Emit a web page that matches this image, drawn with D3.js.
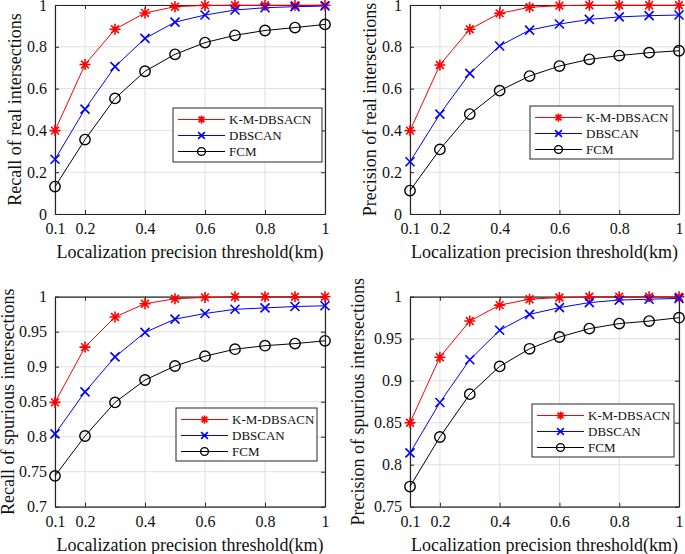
<!DOCTYPE html>
<html><head><meta charset="utf-8">
<script src="https://cdn.jsdelivr.net/npm/d3@7"></script>
<style>body{margin:0;background:#fff}svg{display:block}</style>
</head><body>
<script>
const thresholds = [0.1,0.2,0.3,0.4,0.5,0.6,0.7,0.8,0.9,1.0];
const xTicks = [0.1,0.2,0.4,0.6,0.8,1];
const seriesNames = ["K-M-DBSACN","DBSCAN","FCM"];

const recallReal_KM   = [0.399,0.715,0.884,0.962,0.992,0.998,0.999,0.999,0.999,0.999];
const recallReal_DB   = [0.262,0.502,0.705,0.840,0.918,0.952,0.976,0.987,0.992,0.995];
const recallReal_FCM  = [0.131,0.356,0.553,0.683,0.764,0.820,0.855,0.878,0.892,0.907];

const precReal_KM     = [0.399,0.713,0.884,0.960,0.989,0.997,0.999,0.999,0.999,0.999];
const precReal_DB     = [0.250,0.478,0.673,0.804,0.880,0.909,0.931,0.943,0.949,0.952];
const precReal_FCM    = [0.112,0.309,0.478,0.590,0.660,0.708,0.740,0.758,0.772,0.781];

const recallSpur_KM   = [0.849,0.928,0.971,0.990,0.997,0.999,1.000,1.000,1.000,1.000];
const recallSpur_DB   = [0.804,0.864,0.914,0.949,0.968,0.976,0.982,0.984,0.986,0.987];
const recallSpur_FCM  = [0.744,0.801,0.849,0.881,0.901,0.915,0.925,0.930,0.933,0.937];

const precSpur_KM     = [0.850,0.928,0.971,0.990,0.997,0.999,1.000,1.000,1.000,1.000];
const precSpur_DB     = [0.814,0.874,0.925,0.960,0.979,0.987,0.993,0.996,0.997,0.998];
const precSpur_FCM    = [0.774,0.833,0.884,0.917,0.938,0.952,0.962,0.968,0.971,0.975];

const yTicksReal = [0,0.2,0.4,0.6,0.8,1];
const yTicksRecallSpur = [0.7,0.75,0.8,0.85,0.9,0.95,1];
const yTicksPrecSpur = [0.75,0.8,0.85,0.9,0.95,1];

const xLabel = "Localization precision threshold(km)";

const panels = [
  {yLabel:"Recall of real intersections", series:[recallReal_KM,recallReal_DB,recallReal_FCM], yDomain:[0,1], yTicks:yTicksReal,
   box:{l:55,r:325,t:5,b:214}, ylx:15, leg:{x:173,y:108,w:149,h:54}},
  {yLabel:"Precision of real intersections", series:[precReal_KM,precReal_DB,precReal_FCM], yDomain:[0,1], yTicks:yTicksReal,
   box:{l:410,r:679,t:5,b:214}, ylx:370, leg:{x:530,y:106,w:143,h:53}},
  {yLabel:"Recall of spurious intersections", series:[recallSpur_KM,recallSpur_DB,recallSpur_FCM], yDomain:[0.7,1], yTicks:yTicksRecallSpur,
   box:{l:55,r:325,t:296.7,b:506.7}, ylx:8, leg:{x:176,y:408,w:141,h:53}},
  {yLabel:"Precision of spurious intersections", series:[precSpur_KM,precSpur_DB,precSpur_FCM], yDomain:[0.75,1], yTicks:yTicksPrecSpur,
   box:{l:410,r:679,t:296.7,b:506.7}, ylx:358, leg:{x:532,y:404,w:142,h:53}}
];

const colors = ["#ff0000","#0000ff","#000000"];
const font = "Liberation Serif, Times New Roman, serif";

const svg = d3.select("body").append("svg").attr("width",685).attr("height",554)
  .attr("font-family",font);

function marker(g, type, x, y, color, s){
  if(type===0){
    const r=5.5*s, d=r*0.707;
    g.append("path").attr("d",`M${x-r},${y}L${x+r},${y}M${x},${y-r}L${x},${y+r}M${x-d},${y-d}L${x+d},${y+d}M${x-d},${y+d}L${x+d},${y-d}`)
      .attr("stroke",color).attr("stroke-width",1.6).attr("fill","none");
  } else if(type===1){
    const r=4.5*s;
    g.append("path").attr("d",`M${x-r},${y-r}L${x+r},${y+r}M${x-r},${y+r}L${x+r},${y-r}`)
      .attr("stroke",color).attr("stroke-width",1.6).attr("fill","none");
  } else {
    g.append("circle").attr("cx",x).attr("cy",y).attr("r",5.2*s)
      .attr("stroke",color).attr("stroke-width",1.4).attr("fill","none");
  }
}

panels.forEach(p=>{
  const B=p.box;
  const x=d3.scaleLinear().domain([0.1,1]).range([B.l,B.r]);
  const y=d3.scaleLinear().domain(p.yDomain).range([B.b,B.t]);
  const g=svg.append("g");
  g.selectAll(".gx").data(xTicks).enter().append("line")
    .attr("x1",d=>x(d)).attr("x2",d=>x(d)).attr("y1",B.t).attr("y2",B.b)
    .attr("stroke","#e0e0e0").attr("stroke-width",1);
  g.selectAll(".gy").data(p.yTicks).enter().append("line")
    .attr("y1",d=>y(d)).attr("y2",d=>y(d)).attr("x1",B.l).attr("x2",B.r)
    .attr("stroke","#e0e0e0").attr("stroke-width",1);
  const axB=d3.axisBottom(x).tickValues(xTicks).tickFormat(d3.format("~g")).tickSizeInner(-4).tickSizeOuter(0).tickPadding(9);
  const axL=d3.axisLeft(y).tickValues(p.yTicks).tickFormat(d3.format("~g")).tickSizeInner(-4).tickSizeOuter(0).tickPadding(8);
  const axT=d3.axisTop(x).tickValues(xTicks).tickFormat("").tickSizeInner(-4).tickSizeOuter(0);
  const axR=d3.axisRight(y).tickValues(p.yTicks).tickFormat("").tickSizeInner(-4).tickSizeOuter(0);
  [[axB,`translate(0,${B.b})`],[axL,`translate(${B.l},0)`],[axT,`translate(0,${B.t})`],[axR,`translate(${B.r},0)`]].forEach(([ax,tr])=>{
    const a=g.append("g").attr("transform",tr).call(ax).attr("font-family",font);
    a.select(".domain").attr("stroke","#262626").attr("stroke-width",1.2);
    a.selectAll(".tick line").attr("stroke","#262626");
    a.selectAll("text").attr("font-family",font).attr("font-size",16).attr("fill","#111");
  });
  p.series.forEach((vals,si)=>{
    const line=d3.line().x((d,i)=>x(thresholds[i])).y(d=>y(d));
    g.append("path").datum(vals).attr("d",line).attr("fill","none").attr("stroke",colors[si]).attr("stroke-width",1);
  });
  p.series.forEach((vals,si)=>{
    vals.forEach((v,i)=>marker(g,si,x(thresholds[i]),y(v),colors[si],1));
  });
  const L=p.leg;
  const lg=g.append("g").attr("transform",`translate(${L.x},${L.y})`);
  lg.append("rect").attr("width",L.w).attr("height",L.h).attr("fill","#fff").attr("stroke","#262626").attr("stroke-width",1);
  seriesNames.forEach((n,i)=>{
    const yy=11.5+i*16;
    lg.append("line").attr("x1",5).attr("x2",52).attr("y1",yy).attr("y2",yy).attr("stroke",colors[i]).attr("stroke-width",1);
    marker(lg,i,28.5,yy,colors[i],0.75);
    lg.append("text").attr("x",56).attr("y",yy).attr("dy","0.35em").attr("font-family",font)
      .attr("font-size",13).attr("fill","#111").text(n);
  });
  g.append("text").attr("x",(B.l+B.r)/2).attr("y",B.b+38).attr("dy","0.35em").attr("text-anchor","middle")
    .attr("font-family",font).attr("font-size",18).attr("fill","#111").text(xLabel);
  g.append("text").attr("transform",`translate(${p.ylx},${(B.t+B.b)/2}) rotate(-90)`).attr("dy","0.35em")
    .attr("font-family",font).attr("text-anchor","middle").attr("font-size",18).attr("fill","#111").text(p.yLabel);
});
</script>
</body></html>
